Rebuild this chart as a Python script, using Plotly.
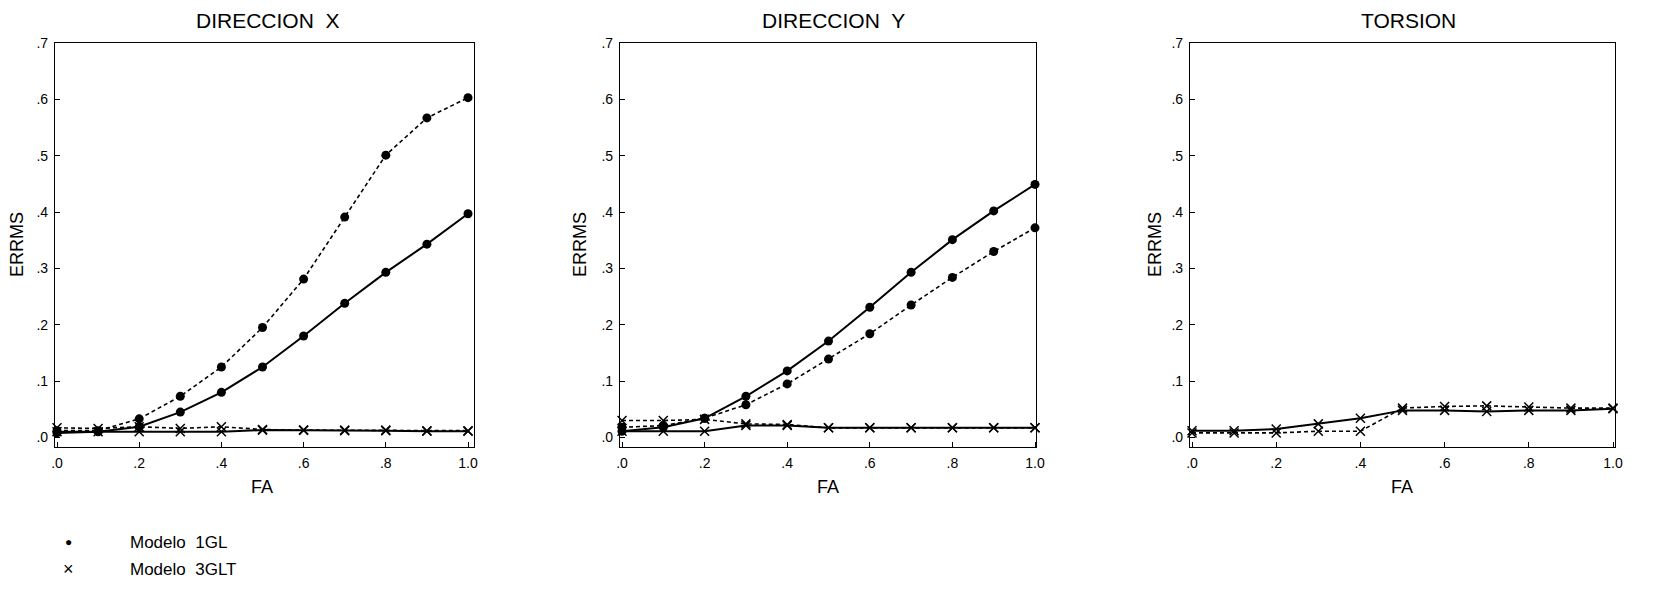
import plotly.graph_objects as go

W, H = 1668, 590
OFF = 8  # page body margin in the browser

fa = [0.0, 0.1, 0.2, 0.3, 0.4, 0.5, 0.6, 0.7, 0.8, 0.9, 1.0]

# DIRECCION X
dx_1gl_solid = [0.008, 0.010, 0.019, 0.045, 0.080, 0.125, 0.180, 0.238, 0.293, 0.343, 0.397]
dx_1gl_dash = [0.012, 0.012, 0.033, 0.073, 0.125, 0.195, 0.281, 0.391, 0.501, 0.567, 0.603]
dx_3glt_solid = [0.010, 0.010, 0.010, 0.010, 0.010, 0.013, 0.013, 0.012, 0.012, 0.011, 0.011]
dx_3glt_dash = [0.017, 0.016, 0.019, 0.016, 0.019, 0.014, 0.013, 0.013, 0.013, 0.012, 0.012]

# DIRECCION Y
dy_1gl_solid = [0.011, 0.018, 0.034, 0.073, 0.118, 0.171, 0.231, 0.293, 0.351, 0.402, 0.449]
dy_1gl_dash = [0.018, 0.021, 0.034, 0.058, 0.095, 0.139, 0.184, 0.235, 0.284, 0.330, 0.372]
dy_3glt_solid = [0.011, 0.011, 0.011, 0.021, 0.021, 0.017, 0.017, 0.017, 0.017, 0.017, 0.017]
dy_3glt_dash = [0.030, 0.030, 0.032, 0.024, 0.023, 0.017, 0.017, 0.017, 0.017, 0.017, 0.017]

# TORSION
tz_3glt_solid = [0.012, 0.012, 0.015, 0.024, 0.034, 0.048, 0.048, 0.046, 0.048, 0.048, 0.051]
tz_3glt_dash = [0.008, 0.008, 0.008, 0.011, 0.011, 0.052, 0.055, 0.056, 0.054, 0.052, 0.052]

titles = ["DIRECCION  X", "DIRECCION  Y", "TORSION"]
x_tickvals = [0.0, 0.2, 0.4, 0.6, 0.8, 1.0]
x_ticktext = [".0", ".2", ".4", ".6", ".8", "1.0"]
y_tickvals = [0.0, 0.1, 0.2, 0.3, 0.4, 0.5, 0.6, 0.7]
y_ticktext = [".0", ".1", ".2", ".3", ".4", ".5", ".6", ".7"]
legend_names = ["Modelo  1GL", "Modelo  3GLT"]

FONT = "Liberation Sans, Arial, sans-serif"

panels = [
    [(dx_1gl_solid, "1GL", "solid"), (dx_1gl_dash, "1GL", "dash"),
     (dx_3glt_solid, "3GLT", "solid"), (dx_3glt_dash, "3GLT", "dash")],
    [(dy_1gl_solid, "1GL", "solid"), (dy_1gl_dash, "1GL", "dash"),
     (dy_3glt_solid, "3GLT", "solid"), (dy_3glt_dash, "3GLT", "dash")],
    [(tz_3glt_solid, "3GLT", "solid"), (tz_3glt_dash, "3GLT", "dash")],
]


def px_x(p):
    return (p - OFF) / W


def px_y(p):
    return 1 - (p - OFF) / H


# page pixel positions of x=0 and x=1, and x-ranges for each panel
xpix = [(57, 468), (622, 1035), (1192, 1613)]
xranges = [[-0.005, 1.015], [-0.005, 1.003], [-0.005, 1.004]]
title_x = [268, 833, 1408]
fa_x = [262, 828, 1402]
errms_x = [17, 580, 1155]
y_dom = [px_y(447), px_y(43)]
y_rng = [-0.017, 0.70]

fig = go.Figure()
for i, series in enumerate(panels):
    n = "" if i == 0 else str(i + 1)
    for vals, model, style in series:
        if model == "1GL":
            marker = dict(symbol="circle", size=9, color="black")
        else:
            marker = dict(symbol="x-thin-open", size=9, color="black",
                          line=dict(width=1.5, color="black"))
        fig.add_trace(go.Scatter(
            x=fa, y=vals, mode="lines+markers",
            line=dict(color="black", width=2 if style == "solid" else 1.6,
                      dash="solid" if style == "solid" else "4px,3px"),
            marker=marker, cliponaxis=False, showlegend=False,
            xaxis="x" + n, yaxis="y" + n,
        ))
    p0, p1 = xpix[i]
    xr = xranges[i]
    per = p1 - p0
    left = p0 + xr[0] * per
    right = p0 + xr[1] * per
    axcommon = dict(showline=True, linecolor="black", linewidth=1, mirror=True,
                    ticks="inside", ticklen=5, tickcolor="black", showgrid=False,
                    zeroline=False, automargin=False,
                    tickfont=dict(size=14, color="black", family=FONT))
    fig.layout["xaxis" + n] = dict(domain=[px_x(left), px_x(right)], range=xr,
                                   tickvals=x_tickvals, ticktext=x_ticktext,
                                   ticklabelstandoff=3,
                                   anchor="y" + n, **axcommon)
    fig.layout["yaxis" + n] = dict(domain=y_dom, range=y_rng,
                                   tickvals=y_tickvals, ticktext=y_ticktext,
                                   ticklabelstandoff=3,
                                   anchor="x" + n, **axcommon)
    fig.add_annotation(text=titles[i], x=px_x(title_x[i]), y=px_y(21), xref="paper", yref="paper",
                       xanchor="center", yanchor="middle", showarrow=False,
                       font=dict(size=21, color="black", family=FONT))
    fig.add_annotation(text="FA", x=px_x(fa_x[i]), y=px_y(487), xref="paper", yref="paper",
                       xanchor="center", yanchor="middle", showarrow=False,
                       font=dict(size=18, color="black", family=FONT))
    fig.add_annotation(text="ERRMS", x=px_x(errms_x[i]), y=px_y(245), xref="paper", yref="paper",
                       xanchor="center", yanchor="middle", showarrow=False, textangle=-90,
                       font=dict(size=18, color="black", family=FONT))

# legend (as text)
fig.add_annotation(text="●", x=px_x(68), y=px_y(542), xref="paper", yref="paper",
                   xanchor="center", yanchor="middle", showarrow=False,
                   font=dict(size=12, color="black", family=FONT))
fig.add_annotation(text="×", x=px_x(68), y=px_y(569), xref="paper", yref="paper",
                   xanchor="center", yanchor="middle", showarrow=False,
                   font=dict(size=18, color="black", family=FONT))
for j, name in enumerate(legend_names):
    fig.add_annotation(text=name, x=px_x(128), y=px_y(542 + 27 * j), xref="paper", yref="paper",
                       xanchor="left", yanchor="middle", showarrow=False,
                       font=dict(size=17, color="black", family=FONT))

fig.update_layout(width=W, height=H, margin=dict(l=0, r=0, t=0, b=0, autoexpand=False),
                  paper_bgcolor="white", plot_bgcolor="white", showlegend=False)

fig.write_html("out.html")
